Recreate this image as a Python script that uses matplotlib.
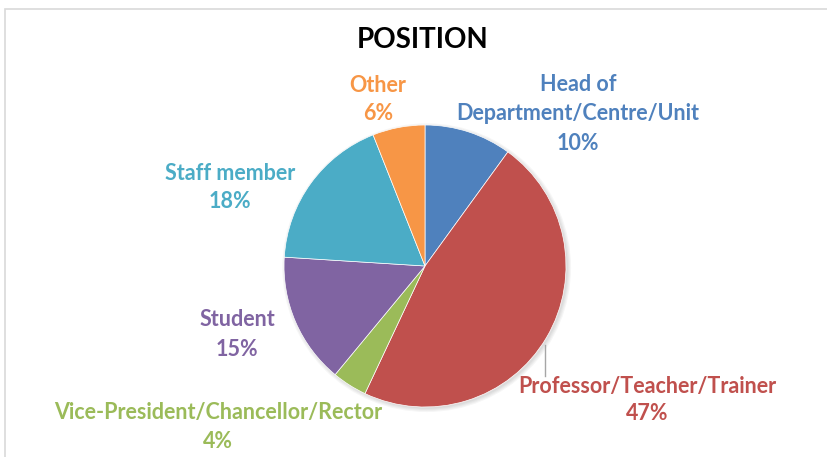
import matplotlib.pyplot as plt
from matplotlib.patches import Rectangle, Circle

plt.rcParams['font.family'] = ['Lato', 'DejaVu Sans']

# data
categories = ['Head of\nDepartment/Centre/Unit', 'Professor/Teacher/Trainer',
              'Vice-President/Chancellor/Rector', 'Student', 'Staff member', 'Other']
shares = [10, 47, 4, 15, 18, 6]
colors = ['#4F81BD', '#C0504D', '#9BBB59', '#8064A2', '#4BACC6', '#F79646']

W, H = 828, 457
fig = plt.figure(figsize=(W / 100, H / 100), dpi=100)

# chart frame
fig.patches.append(Rectangle((5 / W, -0.1), 1.2, 1 - 9 / H + 0.1, transform=fig.transFigure,
                             fill=False, edgecolor='#D9D9D9', linewidth=1.2))

# pie axes: centre (425, 266) px, radius 141 px
cx, cy, r = 425, 266, 141
ax = fig.add_axes([(cx - r * 1.05) / W, (H - cy - r * 1.05) / H, 2.1 * r / W, 2.1 * r / H])
# faint drop shadow
for k in range(4):
    ax.add_patch(Circle((0.012, -0.012), 1.0 + 0.008 * k, color='black',
                        alpha=0.035, lw=0, zorder=0))
ax.pie(shares, colors=colors, startangle=90, counterclock=False,
       wedgeprops=dict(edgecolor='white', linewidth=0.5, zorder=2))
ax.set_xlim(-1.05, 1.05)
ax.set_ylim(-1.05, 1.05)
ax.set_aspect('equal')
ax.axis('off')

fig.text(423 / W, 1 - 40 / H, 'POSITION', ha='center', va='center',
         fontsize=20, fontweight='bold', color='black')

# label anchors in pixels: x centre, y of name line(s), y of percent line
label_pos = [(578, 99, 143), (647, 387, 414), (218, 413, 441),
             (237, 320, 349), (230, 173, 201), (378, 85, 114)]

for cat, val, col, (lx, ny, py) in zip(categories, shares, colors, label_pos):
    fig.text(lx / W, 1 - ny / H, cat, ha='center', va='center', multialignment='center',
             fontsize=15.5, fontweight='bold', color=col, linespacing=1.45)
    fig.text(lx / W, 1 - py / H, f'{val}%', ha='center', va='center',
             fontsize=15.5, fontweight='bold', color=col)

# leader line for the professor label
fig.add_artist(plt.Line2D([545 / W, 545 / W], [1 - 345 / H, 1 - 376 / H],
                          transform=fig.transFigure, color='#A6A6A6', linewidth=1))

fig.savefig('out.png', dpi=100)
